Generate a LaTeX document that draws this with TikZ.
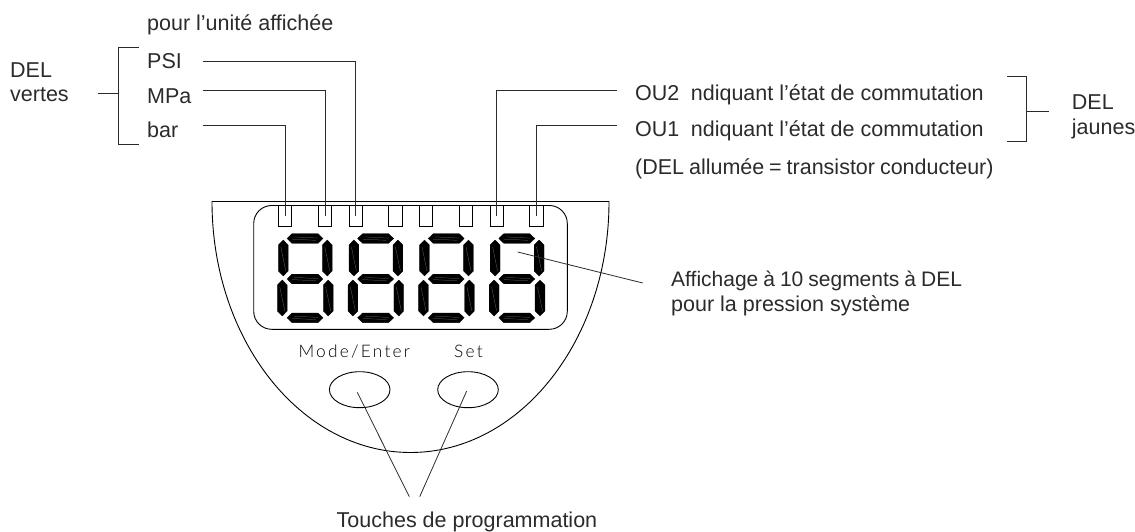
\documentclass[tikz,border=0pt]{standalone}
\usepackage{fontspec}
\setmainfont{Liberation Sans}
\newfontfamily\cadfont[LetterSpace=13]{Lato Light}
\usetikzlibrary{shapes.geometric,calc}
\definecolor{ink}{HTML}{2B2B2B}
\tikzset{
  lab/.style={anchor=base west,inner sep=0pt,text=ink,font=\fontsize{21.5}{24}\selectfont},
  cad/.style={anchor=base west,inner sep=0pt,text=black,font=\fontsize{17.3}{20}\selectfont\cadfont},
  part/.style={draw=black,line width=0.9pt},
  ledbox/.style={part,rectangle,minimum width=13.3pt,minimum height=20.7pt,inner sep=0pt,outer sep=0pt},
  btn/.style={part,ellipse,minimum width=60.6pt,minimum height=36pt,inner sep=0pt,outer sep=0pt},
  leader/.style={draw=ink,line width=0.8pt},
  seg/.style={fill=black,draw=black,line width=0.3pt},
  glint/.style={draw=black!55,line width=0.25pt},
}
\newcommand{\hseg}[2]{% centre x, centre y
  \path[seg] (#1-18,#2) -- (#1-13,#2-4.8) -- (#1+13,#2-4.8) -- (#1+18,#2) -- (#1+13,#2+4.8) -- (#1-13,#2+4.8) -- cycle;
  \draw[glint] (#1-11,#2-1.6) -- (#1+13,#2-.4) (#1-13,#2+.6) -- (#1+11,#2+1.8);
}
\newcommand{\vseg}[2]{%
  \path[seg] (#1,#2-18) -- (#1+4.9,#2-13) -- (#1+4.9,#2+13) -- (#1,#2+18) -- (#1-4.9,#2+13) -- (#1-4.9,#2-13) -- cycle;
  \draw[glint] (#1-2.5,#2-11) -- (#1+2.5,#2+13);
}
\newcommand{\digit}[1]{%
  \hseg{#1+305}{238.5}
  \hseg{#1+305}{279}
  \hseg{#1+305}{317.8}
  \vseg{#1+283.3}{258}
  \vseg{#1+327.3}{258}
  \vseg{#1+282.3}{298}
  \vseg{#1+328.2}{298}
}
\begin{document}
\begin{tikzpicture}[x=1pt,y=-1pt]
\useasboundingbox (0,0) rectangle (1135,532);
% housing
\draw[part] (212,201.5) -- (609,201.5) arc[start angle=0,end angle=180,x radius=198.5,y radius=251] -- cycle;
% display
\draw[part,rounded corners=18pt] (253.7,205.5) rectangle (567.3,329.3);
% digits
\foreach \k in {0,70.6,141.2,211.8} {\digit{\k}}
% LEDs
\node[ledbox] (l1) at (285.2,215.8) {};
\node[ledbox] (l2) at (325.1,215.8) {};
\node[ledbox] (l3) at (355.8,215.8) {};
\node[ledbox] (l4) at (395.4,215.8) {};
\node[ledbox] (l5) at (426.2,215.8) {};
\node[ledbox] (l6) at (465.7,215.8) {};
\node[ledbox] (l7) at (496.7,215.8) {};
\node[ledbox] (l8) at (536.5,215.8) {};
% buttons
\node[btn] (bA) at (359.7,389.7) {};
\node[btn] (bB) at (468,389.7) {};
\node[cad] (tmode) at (298.3,357.5) {Mode/Enter};
\node[cad] (tset) at (454,357.5) {Set};
% texts
\node[lab] (tunit) at (147,30.7) {pour l’unité affichée};
\node[lab] (tpsi) at (147,68.3) {PSI};
\node[lab] (tmpa) at (147,103.3) {MPa};
\node[lab] (tbar) at (147,137.7) {bar};
\node[lab] (tdel) at (10,77.3) {DEL};
\node[lab] (tvert) at (10,101.7) {vertes};
\node[lab] (tou2) at (635,101) {OU2\hspace{5.5pt} ndiquant l’état de commutation};
\node[lab] (tou1) at (635,136) {OU1\hspace{5.5pt} ndiquant l’état de commutation};
\node[lab] (tall) at (635,175) {\spaceskip=4.9pt (DEL allumée = transistor conducteur)};
\node[lab] (tdj) at (1071.7,110) {DEL};
\node[lab] (tjau) at (1071.7,135) {jaunes};
\node[lab,font=\fontsize{21}{24}\selectfont] (taff) at (671,286.7) {\spaceskip=5pt Affichage à 10 segments à DEL};
\node[lab] (tpre) at (671,311.7) {pour la pression système};
\node[lab] (ttou) at (336.5,527) {Touches de programmation};
% free ends
\coordinate (cpsi) at (203,61);
\coordinate (cmpa) at (203,90.7);
\coordinate (cbar) at (203,125);
\coordinate (cou2) at (617,90.7);
\coordinate (cou1) at (617,125);
\coordinate (gt) at (139,47.7);
\coordinate (gb) at (139,144.3);
\coordinate (gs) at (98,93);
\coordinate (jt) at (1007,76);
\coordinate (jb) at (1007,141.7);
\coordinate (js) at (1049,111.7);
\coordinate (dA) at (517.7,252);
\coordinate (dB) at (642.7,283);
\coordinate (kA) at (409.3,496.7);
\coordinate (kB) at (419.7,496.7);
% connectors
\draw[leader] (cpsi) -| (l3.center);
\draw[leader] (cmpa) -| (l2.center);
\draw[leader] (cbar) -| (l1.center);
\draw[leader] (cou2) -| (l7.center);
\draw[leader] (cou1) -| (l8.center);
\draw[leader] (gt) -- (118.5,47.7) -- (118.5,144.3) -- (gb);
\draw[leader] (gs) -- (118.5,93);
\draw[leader] (jt) -- (1026,76) -- (1026,141.7) -- (jb);
\draw[leader] (js) -- (1026,111.7);
\draw[leader] (dA) -- (dB);
\draw[leader] ($(bA.center)+(-2.4,2.6)$) -- (kA);
\draw[leader] ($(bB.center)+(-1.3,1.3)$) -- (kB);
\end{tikzpicture}
\end{document}
